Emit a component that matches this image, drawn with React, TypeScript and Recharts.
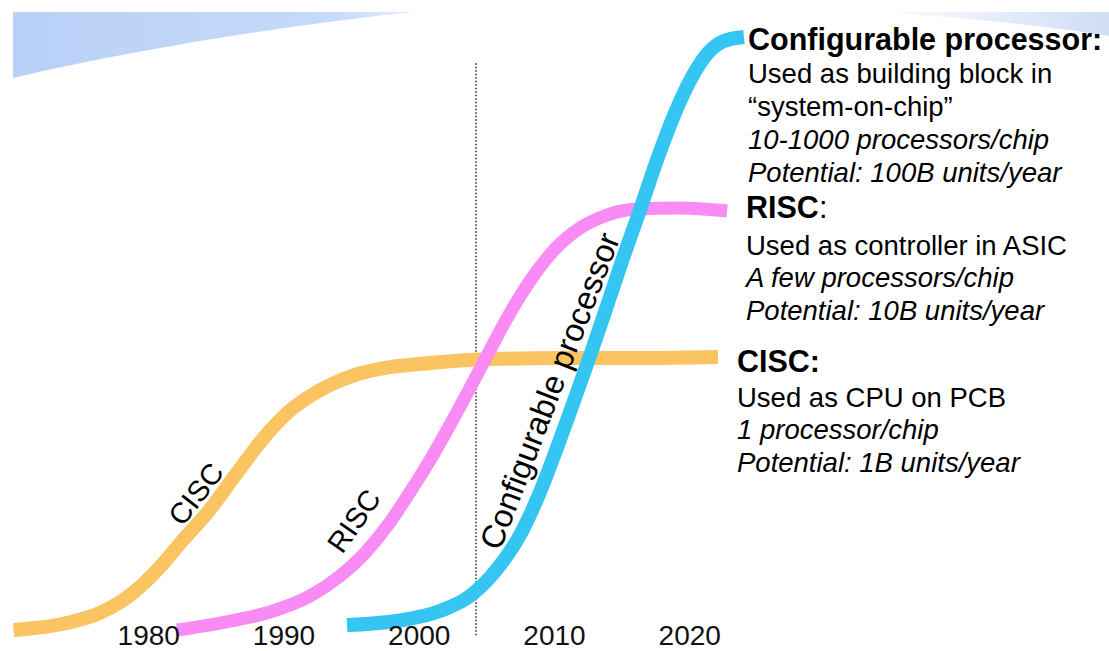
import React from 'react';
import { LineChart, Line, XAxis, YAxis, ReferenceLine } from 'recharts';

const tickYears = [1980, 1990, 2000, 2010, 2020];

const ciscYears = [1970, 1973.95, 1976.39, 1978.83, 1980.83, 1982.53, 1984.31, 1986.52, 1988.37, 1990.07, 1991.7, 1993.4, 1995.25, 1997.47, 2000.06, 2003.75, 2010.41, 2016.32, 2022.09];
const ciscValues = [1.72, 2.81, 4.38, 7.5, 11.56, 15.78, 20.0, 26.25, 31.41, 35.31, 37.97, 40.0, 41.56, 42.66, 43.28, 43.91, 44.22, 44.22, 44.38];

const riscYears = [1982.09, 1985.27, 1988.96, 1991.92, 1994.14, 1995.99, 1997.69, 1999.32, 2000.8, 2002.27, 2003.75, 2005.23, 2006.71, 2008.34, 2010.04, 2011.89, 2013.88, 2016.1, 2019.28, 2022.76];
const riscValues = [1.72, 2.81, 4.53, 7.03, 10.16, 13.75, 18.13, 23.28, 28.28, 33.75, 39.53, 45.47, 51.25, 56.72, 61.25, 64.53, 66.56, 67.5, 67.66, 67.19];

const confYears = [1994.66, 1998.8, 2001.53, 2003.75, 2005.75, 2007.45, 2008.93, 2010.26, 2011.52, 2012.7, 2013.88, 2015.07, 2016.32, 2017.58, 2018.91, 2020.17, 2021.35, 2022.53, 2024.01];
const confValues = [2.5, 3.28, 4.69, 7.03, 11.25, 16.56, 23.28, 30.63, 37.97, 45.0, 52.34, 59.84, 67.34, 75.16, 82.5, 88.13, 91.88, 93.75, 94.38];

const markerYear = 2004.2;

const toRows = (years: number[], values: number[]) => years.map((year, i) => ({ year, v: values[i] }));
const ciscData = toRows(ciscYears, ciscValues);
const riscData = toRows(riscYears, riscValues);
const confData = toRows(confYears, confValues);

const FONT = '"Liberation Sans", Arial, sans-serif';

const Tick = (props: any) => {
  const { x, payload } = props;
  return (
    <text x={x} y={645} textAnchor="middle" fontSize={28} fill="#111" fontFamily={FONT}>
      {payload.value}
    </text>
  );
};

export default function App() {
  const W = 1109;
  const H = 651;
  return (
    <div style={{ position: 'absolute', left: 0, top: 0, width: W, height: H, background: '#fff', overflow: 'hidden' }}>
      <svg width={W} height={H} style={{ position: 'absolute', left: 0, top: 0 }}>
        <defs>
          <linearGradient id="swL" x1="0" y1="0" x2="1" y2="0">
            <stop offset="0" stopColor="#B9D0F7" />
            <stop offset="0.8" stopColor="#C6DAF9" />
            <stop offset="1" stopColor="#E6EFFC" />
          </linearGradient>
          <linearGradient id="swR" x1="0" y1="0" x2="1" y2="0">
            <stop offset="0" stopColor="#FFFFFF" />
            <stop offset="1" stopColor="#CFDDF5" />
          </linearGradient>
        </defs>
        <path d="M13,12 L415,12 C330,20 150,45 13,78 Z" fill="url(#swL)" />
        <path d="M870,12 L1109,12 L1109,36 C1050,26 950,16 870,12 Z" fill="url(#swR)" />
      </svg>
      <div style={{ position: 'absolute', left: 0, top: 0 }}>
        <LineChart width={W} height={H} margin={{ top: 1, right: 0, bottom: 0, left: 0 }}>
          <XAxis
            dataKey="year"
            type="number"
            domain={[1969, 2051]}
            ticks={tickYears}
            interval={0}
            axisLine={false}
            tickLine={false}
            height={10}
            tick={<Tick />}
            allowDuplicatedCategory={false}
          />
          <YAxis hide type="number" domain={[0, 100]} />
          <ReferenceLine
            segment={[{ x: markerYear, y: 0.9 }, { x: markerYear, y: 90.5 }]}
            stroke="#222"
            strokeWidth={1.5}
            strokeDasharray="1.5 2"
            ifOverflow="visible"
          />
          <Line data={ciscData} dataKey="v" type="monotone" stroke="#FBC462" strokeWidth={14} dot={false} activeDot={false} isAnimationActive={false} />
          <Line data={riscData} dataKey="v" type="monotone" stroke="#F98CF4" strokeWidth={13} dot={false} activeDot={false} isAnimationActive={false} />
          <Line data={confData} dataKey="v" type="monotone" stroke="#35C5F3" strokeWidth={14} dot={false} activeDot={false} isAnimationActive={false} />
        </LineChart>
      </div>
      <svg width={W} height={H} style={{ position: 'absolute', left: 0, top: 0, pointerEvents: 'none' }} fontFamily={FONT} fill="#000">
        <text x={196} y={494} fontSize={29} textAnchor="middle" dominantBaseline="central" transform="rotate(-52 196 494)">CISC</text>
        <text x={354} y={521} fontSize={29} textAnchor="middle" dominantBaseline="central" transform="rotate(-55 354 521)">RISC</text>
        <text x={550} y={391} fontSize={32.5} textAnchor="middle" dominantBaseline="central" transform="rotate(-69 550 391)">Configurable processor</text>

        <text x={748} y={50} fontSize={30.5} fontWeight="bold">Configurable processor:</text>
        <text x={748} y={83} fontSize={27.5}>Used as building block in</text>
        <text x={748} y={116} fontSize={27.5}>“system-on-chip”</text>
        <text x={748} y={149} fontSize={27.5} fontStyle="italic">10-1000 processors/chip</text>
        <text x={748} y={182} fontSize={27.5} fontStyle="italic">Potential: 100B units/year</text>

        <text x={746} y={218} fontSize={30.5}><tspan fontWeight="bold">RISC</tspan>:</text>
        <text x={746} y={255} fontSize={27.5}>Used as controller in ASIC</text>
        <text x={746} y={287} fontSize={27.5} fontStyle="italic">A few processors/chip</text>
        <text x={746} y={320} fontSize={27.5} fontStyle="italic">Potential: 10B units/year</text>

        <text x={737} y={372} fontSize={30.5} fontWeight="bold">CISC:</text>
        <text x={737} y={407} fontSize={27.5}>Used as CPU on PCB</text>
        <text x={737} y={439} fontSize={27.5} fontStyle="italic">1 processor/chip</text>
        <text x={737} y={472} fontSize={27.5} fontStyle="italic">Potential: 1B units/year</text>
      </svg>
    </div>
  );
}
